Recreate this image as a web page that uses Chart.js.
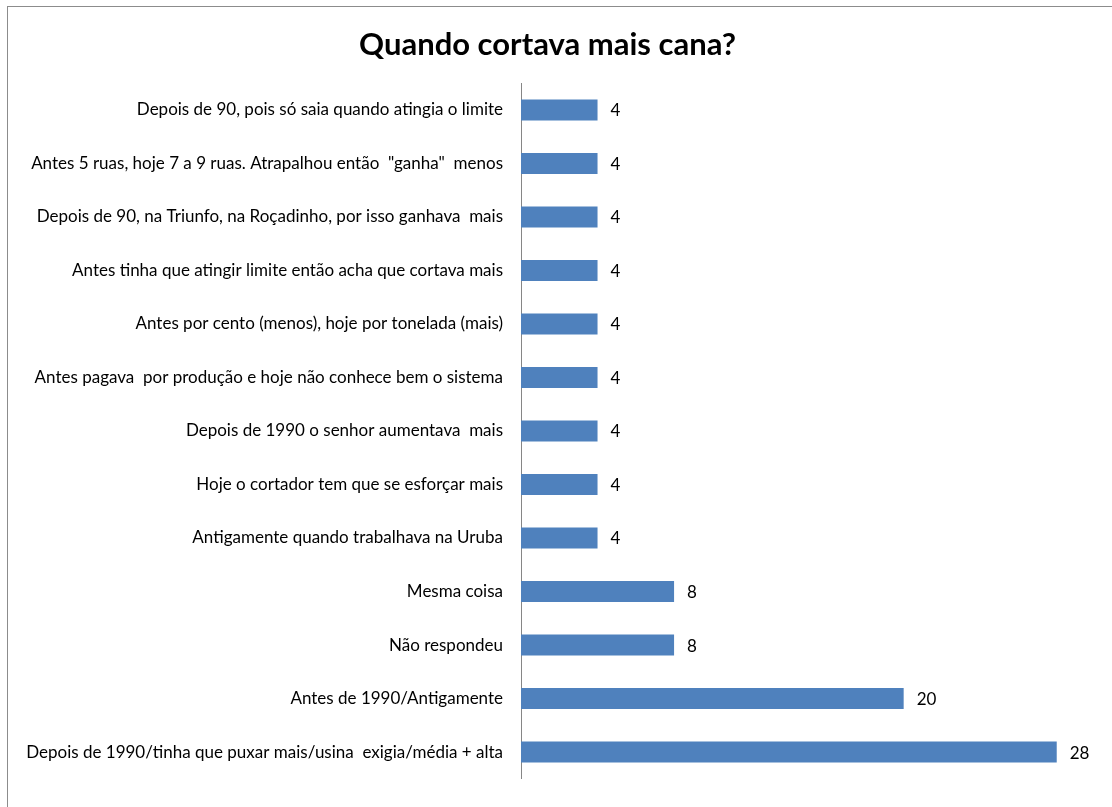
<!DOCTYPE html>
<html lang="pt">
<head>
<meta charset="utf-8">
<title>Quando cortava mais cana?</title>
<script src="https://cdn.jsdelivr.net/npm/chart.js@4.4.1/dist/chart.umd.min.js"></script>
<style>
  html, body { margin: 0; padding: 0; background: #fff; overflow: hidden; }
  .frame {
    position: absolute; left: 7px; top: 6px;
    width: 1200px; height: 900px;
    border: 1px solid #8c8c8c; box-sizing: border-box;
  }
  .wrap { position: absolute; left: 0; top: 0; width: 1112px; height: 807px; }
</style>
</head>
<body>
<div class="frame"></div>
<div class="wrap"><canvas id="chart"></canvas></div>
<script>
// Respostas e número de citações (de cima para baixo)
const categorias = [
  'Depois de 90, pois só saia quando atingia o limite',
  'Antes 5 ruas, hoje 7 a 9 ruas. Atrapalhou então  "ganha"  menos',
  'Depois de 90, na Triunfo, na Roçadinho, por isso ganhava  mais',
  'Antes tinha que atingir limite então acha que cortava mais',
  'Antes por cento (menos), hoje por tonelada (mais)',
  'Antes pagava  por produção e hoje não conhece bem o sistema',
  'Depois de 1990 o senhor aumentava  mais',
  'Hoje o cortador tem que se esforçar mais',
  'Antigamente quando trabalhava na Uruba',
  'Mesma coisa',
  'Não respondeu',
  'Antes de 1990/Antigamente',
  'Depois de 1990/tinha que puxar mais/usina  exigia/média + alta'
];
const valores = [4, 4, 4, 4, 4, 4, 4, 4, 4, 8, 8, 20, 28];

const fonte = 'Lato, "Open Sans", sans-serif';

// Escreve o valor ao lado de cada barra
const rotulosValor = {
  id: 'rotulosValor',
  afterDatasetsDraw(chart) {
    const ctx = chart.ctx;
    const meta = chart.getDatasetMeta(0);
    ctx.save();
    ctx.font = '17px ' + fonte;
    ctx.fillStyle = '#000';
    ctx.textAlign = 'left';
    ctx.textBaseline = 'middle';
    meta.data.forEach((bar, i) => {
      ctx.fillText(String(valores[i]), bar.x + 13, bar.y + 1);
    });
    ctx.restore();
  }
};

new Chart(document.getElementById('chart'), {
  type: 'bar',
  data: {
    labels: categorias,
    datasets: [{
      data: valores,
      backgroundColor: '#4f81bd',
      borderWidth: 0,
      categoryPercentage: 1,
      barPercentage: 0.39
    }]
  },
  options: {
    indexAxis: 'y',
    responsive: true,
    maintainAspectRatio: false,
    animation: false,
    events: [],
    layout: { padding: { left: 0, right: 17, top: 0, bottom: 17 } },
    plugins: {
      legend: { display: false },
      tooltip: { enabled: false },
      title: {
        display: true,
        text: 'Quando cortava mais cana?',
        color: '#000',
        font: { family: fonte, size: 31, weight: 'bold' },
        padding: { top: 26, bottom: 20 }
      }
    },
    scales: {
      x: {
        display: false,
        min: 0,
        max: 30
      },
      y: {
        afterFit(scale) { scale.width = 521; },
        grid: { display: false, drawTicks: false },
        border: { display: true, color: '#868686', width: 1 },
        ticks: {
          color: '#000',
          padding: 18,
          font: { family: fonte, size: 17 }
        }
      }
    }
  },
  plugins: [rotulosValor]
});
</script>
</body>
</html>
